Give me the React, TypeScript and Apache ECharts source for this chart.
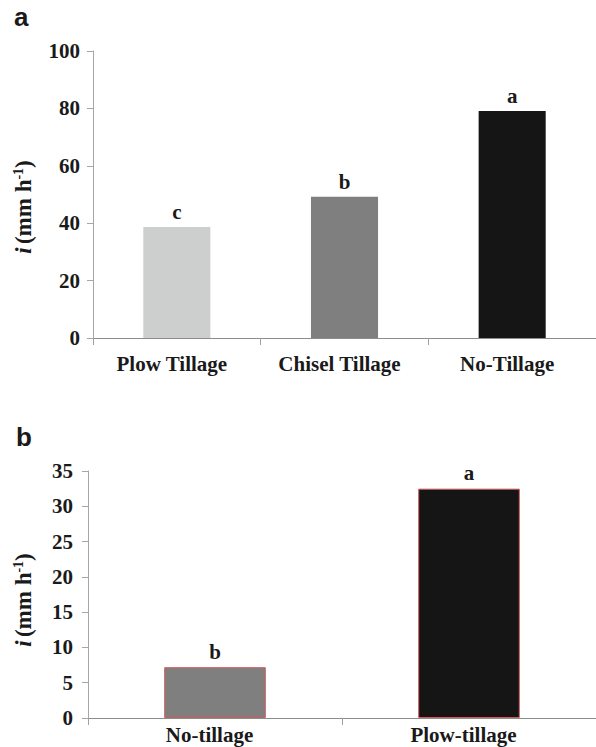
import React, { useEffect, useRef } from "react";
import * as echarts from "echarts";

const catsA = ["Plow Tillage", "Chisel Tillage", "No-Tillage"];
const valsA = [38.7, 49.2, 79.1];
const lettersA = ["c", "b", "a"];
const colorsA = ["#cdcfce", "#7f7f7f", "#151515"];

const catsB = ["No-tillage", "Plow-tillage"];
const valsB = [7.2, 32.5];
const lettersB = ["b", "a"];
const colorsB = ["#7f7f7f", "#151515"];

const SERIF = "'Liberation Serif', 'Times New Roman', serif";
const SANS = "'Liberation Sans', Arial, sans-serif";
const TXT = "#1a1a1a";

export default function App() {
  const ref = useRef<HTMLDivElement>(null);
  useEffect(() => {
    document.body.style.margin = "0";
    const chart = echarts.init(ref.current!, null, { renderer: "svg" });
    const axisLabelY = { fontFamily: SERIF, fontWeight: "bold", fontSize: 21, color: TXT };
    const yName = (x: number, y: number) => ({
      type: "text",
      x,
      y,
      rotation: Math.PI / 2,
      style: {
        text: "{i|i} {n|(mm h}{s|-1}{n|)}",
        align: "center",
        verticalAlign: "middle",
        fill: TXT,
        rich: {
          i: { fontFamily: SERIF, fontStyle: "italic", fontWeight: "bold", fontSize: 23, fill: TXT },
          n: { fontFamily: SERIF, fontWeight: "bold", fontSize: 23, fill: TXT },
          s: { fontFamily: SERIF, fontWeight: "bold", fontSize: 14, fill: TXT, verticalAlign: "top", padding: [0, 0, 9, 0] },
        },
      },
    });
    chart.setOption({
      animation: false,
      grid: [
        { left: 93, top: 51, right: -2, bottom: 747 - 338 },
        { left: 88, top: 471, right: -1, bottom: 747 - 718 },
      ],
      xAxis: [
        {
          type: "category",
          gridIndex: 0,
          data: catsA,
          axisLine: { lineStyle: { color: "#8c8c8c", width: 1 } },
          axisTick: { show: true, length: 7, lineStyle: { color: "#a0a0a0" } },
          axisLabel: { fontFamily: SERIF, fontWeight: "bold", fontSize: 21, color: TXT, margin: 15, padding: [0, 10, 0, 0] },
        },
        {
          type: "category",
          gridIndex: 1,
          data: catsB,
          axisLine: { lineStyle: { color: "#8c8c8c", width: 1 } },
          axisTick: { show: true, length: 7, lineStyle: { color: "#a0a0a0" } },
          axisLabel: { fontFamily: SERIF, fontWeight: "bold", fontSize: 21, color: TXT, margin: 6, padding: [0, 11, 0, 0] },
        },
      ],
      yAxis: [
        {
          type: "value",
          gridIndex: 0,
          min: 0,
          max: 100,
          interval: 20,
          splitLine: { show: false },
          axisLine: { show: true, lineStyle: { color: "#a6a6a6" } },
          axisTick: { show: true, length: 6, lineStyle: { color: "#a6a6a6" } },
          axisLabel: { ...axisLabelY, margin: 13 },
        },
        {
          type: "value",
          gridIndex: 1,
          min: 0,
          max: 35,
          interval: 5,
          splitLine: { show: false },
          axisLine: { show: true, lineStyle: { color: "#a6a6a6" } },
          axisTick: { show: true, length: 6, lineStyle: { color: "#a6a6a6" } },
          axisLabel: { ...axisLabelY, margin: 15 },
        },
      ],
      series: [
        {
          type: "bar",
          xAxisIndex: 0,
          yAxisIndex: 0,
          barWidth: "40%",
          data: valsA.map((v, i) => ({ value: v, itemStyle: { color: colorsA[i] } })),
          label: {
            show: true,
            position: "top",
            distance: 4,
            formatter: (p: any) => lettersA[p.dataIndex],
            fontFamily: SERIF,
            fontWeight: "bold",
            fontSize: 21,
            color: TXT,
          },
        },
        {
          type: "bar",
          xAxisIndex: 1,
          yAxisIndex: 1,
          barWidth: "40%",
          data: valsB.map((v, i) => ({
            value: v,
            itemStyle: { color: colorsB[i], borderColor: "#cf5b5b", borderWidth: 1 },
          })),
          label: {
            show: true,
            position: "top",
            distance: 5,
            formatter: (p: any) => lettersB[p.dataIndex],
            fontFamily: SERIF,
            fontWeight: "bold",
            fontSize: 21,
            color: TXT,
          },
        },
      ],
      graphic: [
        {
          type: "text",
          left: 14,
          top: 4,
          style: { text: "a", font: `bold 26px ${SANS}`, fill: TXT },
        },
        {
          type: "text",
          left: 16,
          top: 424,
          style: { text: "b", font: `bold 26px ${SANS}`, fill: TXT },
        },
        yName(23, 207),
        yName(23, 600),
      ],
    });
    return () => chart.dispose();
  }, []);
  return <div ref={ref} style={{ width: 596, height: 747 }} />;
}
